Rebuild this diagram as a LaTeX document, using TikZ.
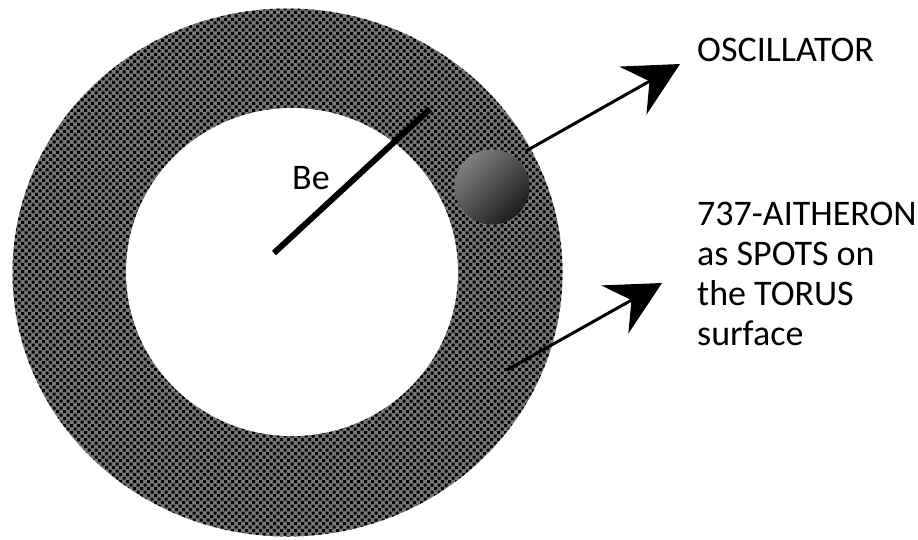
\documentclass[tikz,border=0pt]{standalone}
\usepackage{fontspec}
\setmainfont{Carlito}
\usetikzlibrary{arrows.meta,shapes.geometric,patterns.meta}
\definecolor{ringgray}{gray}{0.47}
\definecolor{spherelight}{gray}{0.5}
\definecolor{spheredark}{gray}{0.11}
\tikzdeclarepattern{
  name=torusdots,
  type=uncolored,
  bottom left={(-.1pt,-.1pt)},
  top right={(7.1pt,7.1pt)},
  tile size={(7pt,7pt)},
  code={
    \pgfpathrectangle{\pgfpoint{0pt}{0pt}}{\pgfpoint{3pt}{3pt}}
    \pgfpathrectangle{\pgfpoint{3.5pt}{3.5pt}}{\pgfpoint{3pt}{3pt}}
    \pgfusepath{fill}
  }
}
\tikzset{
  ringshape/.style={ellipse, inner sep=0pt, outer sep=0pt,
    preaction={fill=ringgray}, pattern=torusdots, pattern color=black},
  holeshape/.style={ellipse, inner sep=0pt, outer sep=0pt, fill=white},
  label/.style={font=\fontsize{36}{40}\selectfont, inner sep=0pt, align=left},
  pointer/.style={line width=3pt, -{Stealth[length=54pt, width=55pt, inset=19pt]}},
  radius line/.style={line width=6pt}
}
\begin{document}
\begin{tikzpicture}[x=1pt,y=-1pt]
\useasboundingbox (0,0) rectangle (918,539);
\clip (0,0) rectangle (918,539);
\fill[white] (0,0) rectangle (918,539);
% torus
\node[ringshape, minimum width=550pt, minimum height=528pt] (outer) at (287.5,272.5) {};
\node[holeshape, minimum width=332pt, minimum height=328pt] (inner) at (292,272) {};
% radius Be
\coordinate (becenter) at (274,253);
\coordinate (beend) at (430,109);
\draw[radius line] (becenter) -- (beend);
\node[label, anchor=base west] (be) at (292,189) {Be};
% oscillator sphere
\node[circle, minimum size=75pt, inner sep=0pt, top color=spherelight, bottom color=spheredark, shading angle=45] (osc) at (492,187) {};
% labels
\node[label, anchor=base west] (osclabel) at (697,61) {OSCILLATOR};
\node[label, anchor=north west] (aitheron) at (697,202) {737-AITHERON\\as SPOTS on\\the TORUS\\surface};
% arrows
\coordinate (oscstart) at (526,151);
\coordinate (osctip) at (680,64);
\draw[pointer] (oscstart) -- (osctip);
\coordinate (spotstart) at (507,370);
\coordinate (spottip) at (662,283);
\draw[pointer] (spotstart) -- (spottip);
\end{tikzpicture}
\end{document}
